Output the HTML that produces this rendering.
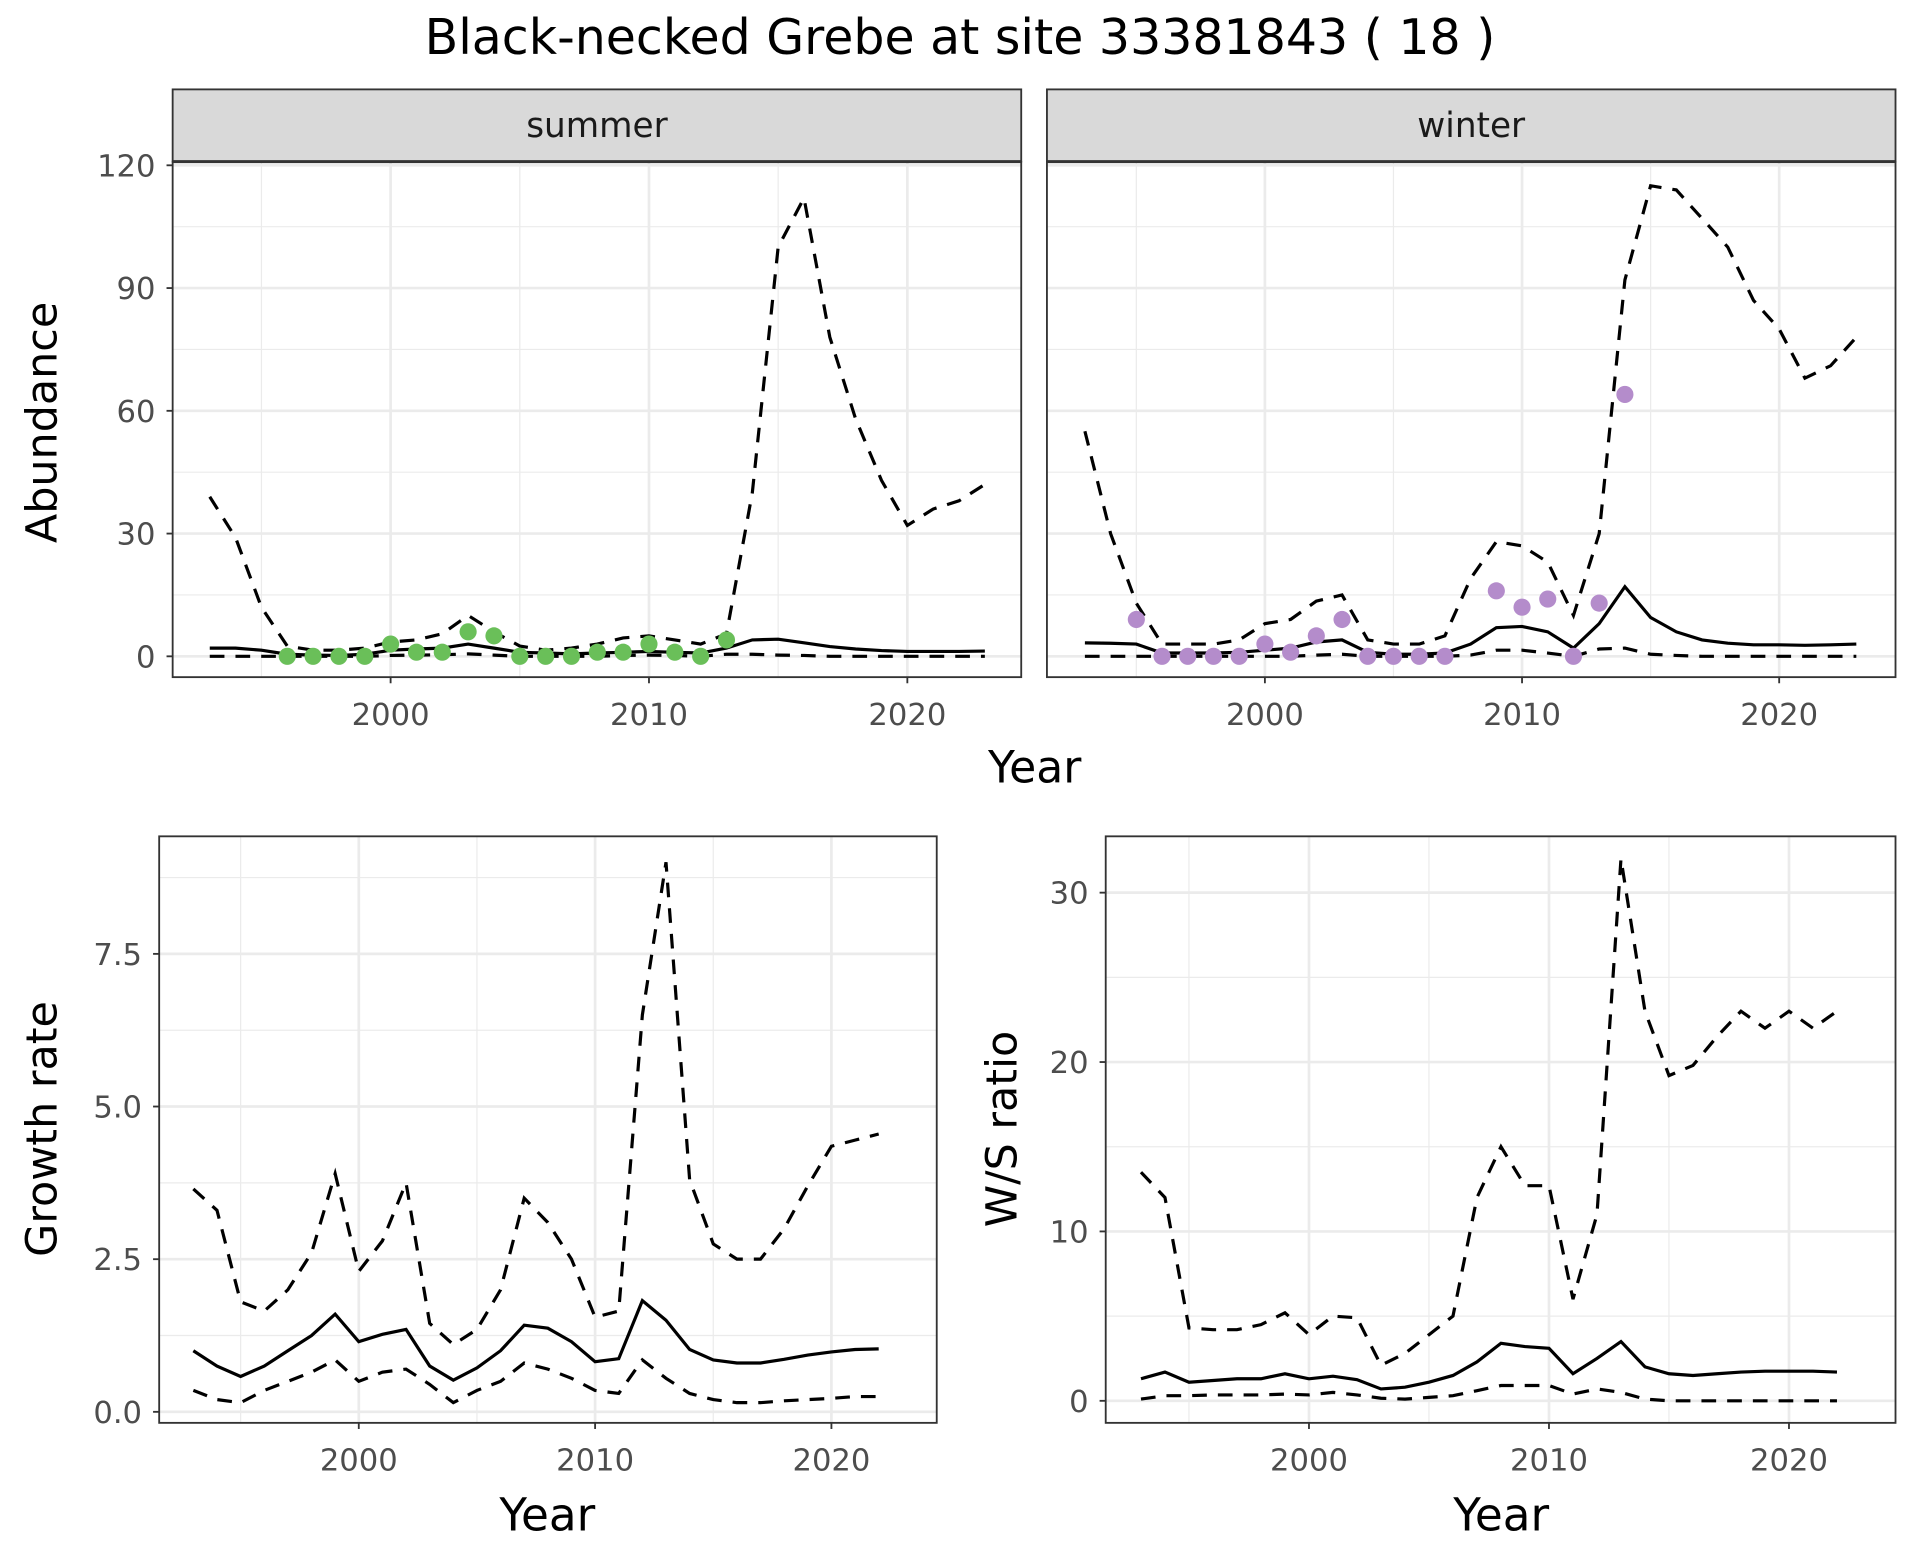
<!DOCTYPE html>
<html><head><meta charset="utf-8"><style>
html,body{margin:0;padding:0;background:#fff}
svg{display:block}
text{font-family:"DejaVu Sans","Liberation Sans",sans-serif}
</style></head><body>
<svg id="c" width="1920" height="1560" viewBox="0 0 1568 1274" xmlns="http://www.w3.org/2000/svg">
<text x="784" y="44" text-anchor="middle" font-size="40" fill="#000">Black-necked Grebe at site 33381843 ( 18 )</text>
</svg>
<script>
const years = [];
for (let y = 1993; y <= 2023; y++) years.push(y);
const summerMid = [2,2,1.5,0.5,0.3,0.2,0.5,1.5,1.8,2,3,2,1,0.8,0.6,0.8,1,1.2,1,0.8,2,4,4.2,3.3,2.4,1.8,1.4,1.2,1.2,1.2,1.3];
const summerUpper = [39,29,12,2.5,1.5,1.5,2,3.5,4,5.5,10,6,2.5,1.5,2,3,4.5,5,4,3,5.5,40,100,112,78,58,43,32,36,38,42];
const summerLower = [0,0,0,0,0,0,0,0.2,0.3,0.4,0.6,0.3,0,0,0,0,0.2,0.3,0.2,0,0.5,0.5,0.3,0.2,0,0,0,0,0,0,0];
const summerObsYears = [1996,1997,1998,1999,2000,2001,2002,2003,2004,2005,2006,2007,2008,2009,2010,2011,2012,2013];
const summerObs = [0,0,0,0,3,1,1,6,5,0,0,0,1,1,3,1,0,4];
const winterMid = [3.3,3.2,3,0.8,0.8,0.8,1,1.5,2,3.5,4,1,0.5,0.5,0.8,3,7,7.3,6,2,8,17,9.5,6,4,3.2,2.8,2.8,2.7,2.8,3];
const winterUpper = [55,30,13,3,3,3,4,8,9,13.5,15,4,3,3,5,19,28,27,23,10,30,92,115,114,107,100,87,80,68,71,78];
const winterLower = [0,0,0,0,0,0,0,0,0,0.3,0.5,0,0,0,0,0.3,1.5,1.5,0.8,0,1.8,2,0.5,0.2,0,0,0,0,0,0,0];
const winterObsYears = [1995,1996,1997,1998,1999,2000,2001,2002,2003,2004,2005,2006,2007,2009,2010,2011,2012,2013,2014];
const winterObs = [9,0,0,0,0,3,1,5,9,0,0,0,0,16,12,14,0,13,64];
const years2 = years.slice(0,30);
const growthMid = [1.0,0.75,0.58,0.75,1.0,1.25,1.6,1.15,1.27,1.35,0.75,0.52,0.72,1.0,1.42,1.37,1.15,0.82,0.87,1.82,1.5,1.02,0.85,0.8,0.8,0.86,0.93,0.98,1.02,1.03];
const growthUpper = [3.65,3.3,1.8,1.65,2.0,2.6,3.9,2.3,2.8,3.75,1.45,1.1,1.35,2.0,3.5,3.1,2.5,1.55,1.65,6.5,9.0,3.8,2.75,2.5,2.5,3.0,3.7,4.35,4.45,4.55];
const growthLower = [0.35,0.2,0.15,0.35,0.5,0.65,0.85,0.5,0.65,0.7,0.45,0.15,0.35,0.5,0.8,0.7,0.55,0.35,0.3,0.85,0.55,0.3,0.2,0.15,0.15,0.18,0.2,0.22,0.25,0.25];
const ratioMid = [1.3,1.7,1.1,1.2,1.3,1.3,1.6,1.3,1.45,1.25,0.7,0.8,1.1,1.5,2.3,3.4,3.2,3.1,1.6,2.5,3.5,2.0,1.6,1.5,1.6,1.7,1.75,1.75,1.75,1.7];
const ratioUpper = [13.5,12,4.3,4.2,4.2,4.5,5.2,3.9,5,4.9,2.1,2.8,3.9,5,12,15,12.7,12.7,6,11,32,23,19.2,19.8,21.5,23,22,23,22,23];
const ratioLower = [0.1,0.3,0.3,0.35,0.35,0.35,0.4,0.35,0.5,0.35,0.15,0.1,0.2,0.3,0.6,0.9,0.9,0.9,0.4,0.7,0.5,0.1,0,0,0,0,0,0,0,0];
const xTicks = [2000,2010,2020];
const xMinor = [1995,2005,2015];
const abTicks = [0,30,60,90,120];
const abMinor = [15,45,75,105];
const grTicks = [0,2.5,5,7.5];
const grTickLabels = ["0.0","2.5","5.0","7.5"];
const grMinor = [1.25,3.75,6.25,8.75];
const wsTicks = [0,10,20,30];
const wsMinor = [5,15,25];

const svg = document.getElementById('c');
const NS = 'http://www.w3.org/2000/svg';
const TICK_FS = 25;
function el(tag, attrs, parent){const e=document.createElementNS(NS,tag);for(const k in attrs)e.setAttribute(k,attrs[k]);(parent||svg).appendChild(e);return e;}
function lin(d0,d1,r0,r1){return v=>r0+(v-d0)*(r1-r0)/(d1-d0);}

function panel(name, L,T,R,B, xs, ys, yTicks, yLabels, yMinor, showYLabels){
  const g = el('g',{});
  
  
  for(const m of yMinor){const l=el('line',{x1:L,x2:R,y1:ys(m),y2:ys(m),stroke:'#ebebeb','stroke-width':1},g);}
  for(const m of xMinor){const l=el('line',{x1:xs(m),x2:xs(m),y1:T,y2:B,stroke:'#ebebeb','stroke-width':1},g);}
  yTicks.forEach((t,i)=>{
    const l=el('line',{x1:L,x2:R,y1:ys(t),y2:ys(t),stroke:'#ebebeb','stroke-width':2.2},g);
    
    if(showYLabels){
      const tk=el('line',{x1:L-5,x2:L,y1:ys(t),y2:ys(t),stroke:'#333','stroke-width':1.5},g);
      
      const tx=el('text',{x:L-14,y:ys(t)+9,'text-anchor':'end','font-size':TICK_FS,fill:'#4d4d4d'},g);
      tx.textContent=yLabels[i];
      
    }
  });
  for(const t of xTicks){
    const l=el('line',{x1:xs(t),x2:xs(t),y1:T,y2:B,stroke:'#ebebeb','stroke-width':2.2},g);
    
    const tk=el('line',{x1:xs(t),x2:xs(t),y1:B,y2:B+5,stroke:'#333','stroke-width':1.5},g);
    
    const tx=el('text',{x:xs(t),y:B+39,'text-anchor':'middle','font-size':TICK_FS,fill:'#4d4d4d'},g);
    tx.textContent=t;
    
  }
  return g;
}
function border(L,T,R,B){const r=el('rect',{x:L,y:T,width:R-L,height:B-T,fill:'none',stroke:'#333','stroke-width':1.5});}
function line(xv,yv,xs,ys,dashed,name){
  const d=xv.map((x,i)=>(i?'L':'M')+xs(x).toFixed(1)+','+ys(yv[i]).toFixed(1)).join('');
  const p=el('path',{d:d,fill:'none',stroke:'#000','stroke-width':2.6,'stroke-dasharray':dashed?'12 9':'none'});
  
}
function points(xv,yv,xs,ys,color,name){
  xv.forEach((x,i)=>{const c=el('circle',{cx:xs(x),cy:ys(yv[i]),r:7,fill:color});
    });
}
function text(x,y,s,size,name,rot){
  const t=el('text',{x:x,y:y,'text-anchor':'middle','font-size':size,fill:'#000'});
  if(rot)t.setAttribute('transform','rotate(-90 '+x+' '+y+')');
  t.textContent=s;
}

const yAb = lin(0,120,536,135);
const abLabels = abTicks.map(String);
[['summer',141,834,2000,319,2010,530,summerMid,summerUpper,summerLower,summerObsYears,summerObs,'#6abf59',true],
 ['winter',855,1548,2000,1033,2010,1243,winterMid,winterUpper,winterLower,winterObsYears,winterObs,'#b48ccb',false]].forEach(p=>{
  const [nm,L,R,a,ax,b,bx,mid,up,lo,oy,ov,col,showY]=p;
  const xs=lin(a,b,ax,bx);
  const T=132,B=553;
  panel(nm,L,T,R,B,xs,yAb,abTicks,abLabels,abMinor,showY);
  line(years,lo,xs,yAb,true,nm+'-lower-bound');
  line(years,up,xs,yAb,true,nm+'-upper-bound');
  line(years,mid,xs,yAb,false,nm+'-estimate');
  points(oy,ov,xs,yAb,col,nm+'-observation');
  border(L,T,R,B);
  const s=el('rect',{x:L,y:73,width:R-L,height:59,fill:'#d9d9d9',stroke:'#333','stroke-width':1.5});
  
  const t=el('text',{x:(L+R)/2,y:112,'text-anchor':'middle','font-size':28,fill:'#1a1a1a'});
  t.textContent=nm;
  el('line',{x1:L,x2:R,y1:132,y2:132,stroke:'#333','stroke-width':2.5});
});
text(845,639,'Year',36,'x-axis-title-top');
text(46,345,'Abundance',35,'y-axis-title-abundance',true);

{
  const xs=lin(2000,2010,293,486), ys=lin(0,7.5,1153,779);
  const L=130,R=765,T=683,B=1162;
  panel('growth-rate',L,T,R,B,xs,ys,grTicks,grTickLabels,grMinor,true);
  line(years2,growthLower,xs,ys,true,'growth-lower-bound');
  line(years2,growthUpper,xs,ys,true,'growth-upper-bound');
  line(years2,growthMid,xs,ys,false,'growth-estimate');
  border(L,T,R,B);
  text(447,1250,'Year',37,'x-axis-title-growth');
  text(46,922,'Growth rate',35,'y-axis-title-growth',true);
}
{
  const xs=lin(2000,2010,1069,1265), ys=lin(0,30,1144,729);
  const L=903,R=1548,T=683,B=1162;
  panel('ws-ratio',L,T,R,B,xs,ys,wsTicks,wsTicks.map(String),wsMinor,true);
  line(years2,ratioLower,xs,ys,true,'ratio-lower-bound');
  line(years2,ratioUpper,xs,ys,true,'ratio-upper-bound');
  line(years2,ratioMid,xs,ys,false,'ratio-estimate');
  border(L,T,R,B);
  text(1226,1250,'Year',37,'x-axis-title-ratio');
  text(830,922,'W/S ratio',35,'y-axis-title-ratio',true);
}
</script>
</body></html>
